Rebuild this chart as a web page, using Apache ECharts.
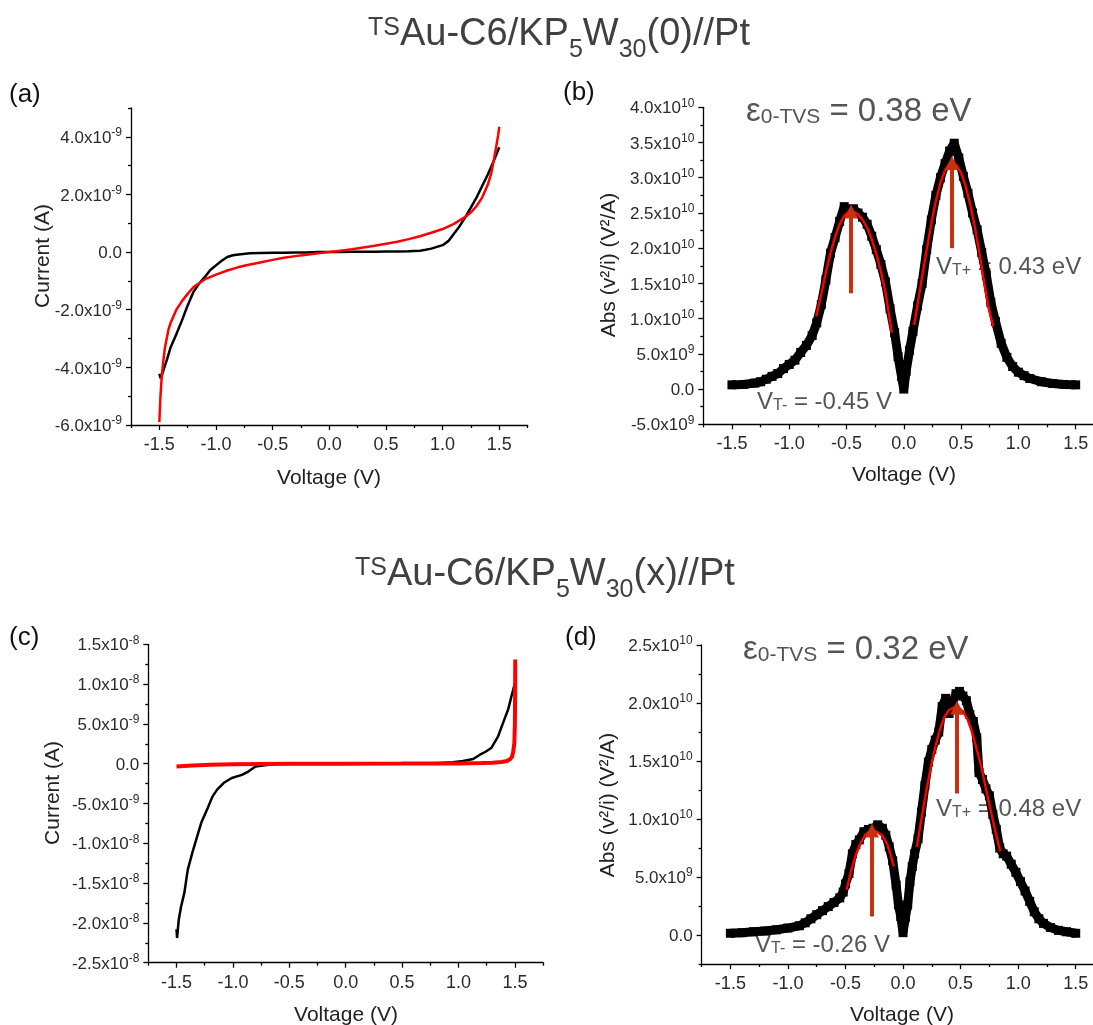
<!DOCTYPE html>
<html>
<head>
<meta charset="utf-8">
<script src="https://cdn.jsdelivr.net/npm/echarts@6/dist/echarts.min.js"></script>
<style>
html,body{margin:0;padding:0;background:#fff;}
#c{width:1093px;height:1025px;}
</style>
</head>
<body>
<div id="c"></div>
<script>
// ---------------- DATA ----------------
// Panel (a): I-V, TSAu-C6/KP5W30(0)//Pt
const aExpV = [-1.50,-1.49,-1.48,-1.46,-1.43,-1.40,-1.35,-1.30,-1.25,-1.20,-1.15,-1.10,-1.05,-1.00,-0.95,-0.90,-0.85,-0.80,-0.70,-0.60,-0.50,-0.40,-0.30,-0.20,-0.10,0.00,0.10,0.20,0.30,0.40,0.50,0.60,0.70,0.80,0.85,0.90,0.95,1.00,1.05,1.10,1.15,1.20,1.25,1.30,1.35,1.40,1.45,1.50];
const aExpI = [-4.22e-9,-4.38e-9,-4.30e-9,-4.05e-9,-3.70e-9,-3.30e-9,-2.85e-9,-2.37e-9,-1.85e-9,-1.39e-9,-1.10e-9,-0.87e-9,-0.62e-9,-0.46e-9,-0.30e-9,-0.17e-9,-0.11e-9,-0.08e-9,-0.04e-9,-0.03e-9,-0.02e-9,-0.02e-9,-0.01e-9,-0.01e-9,0,0,0,0.01e-9,0.01e-9,0.01e-9,0.02e-9,0.02e-9,0.03e-9,0.05e-9,0.08e-9,0.12e-9,0.18e-9,0.24e-9,0.38e-9,0.64e-9,0.90e-9,1.21e-9,1.55e-9,1.90e-9,2.30e-9,2.70e-9,3.15e-9,3.64e-9];
const aFitV = [-1.50,-1.49,-1.48,-1.47,-1.45,-1.42,-1.40,-1.35,-1.30,-1.25,-1.20,-1.15,-1.10,-1.00,-0.90,-0.80,-0.70,-0.60,-0.50,-0.40,-0.30,-0.20,-0.10,0.00,0.10,0.20,0.30,0.40,0.50,0.60,0.70,0.80,0.90,1.00,1.10,1.20,1.25,1.30,1.35,1.40,1.43,1.45,1.47,1.49,1.50];
const aFitI = [-5.9e-9,-5.0e-9,-4.4e-9,-3.95e-9,-3.3e-9,-2.7e-9,-2.45e-9,-2.0e-9,-1.7e-9,-1.45e-9,-1.22e-9,-1.08e-9,-0.95e-9,-0.78e-9,-0.64e-9,-0.52e-9,-0.43e-9,-0.35e-9,-0.27e-9,-0.20e-9,-0.14e-9,-0.09e-9,-0.04e-9,0,0.05e-9,0.10e-9,0.16e-9,0.22e-9,0.29e-9,0.36e-9,0.45e-9,0.55e-9,0.67e-9,0.80e-9,0.98e-9,1.22e-9,1.38e-9,1.60e-9,1.90e-9,2.35e-9,2.75e-9,3.15e-9,3.60e-9,4.05e-9,4.35e-9];

// Panel (b): TVS, Abs(V^2/I)
const bExpV = [-1.50,-1.40,-1.30,-1.25,-1.20,-1.15,-1.10,-1.05,-1.00,-0.95,-0.90,-0.85,-0.80,-0.76,-0.72,-0.68,-0.64,-0.60,-0.56,-0.52,-0.48,-0.44,-0.40,-0.36,-0.32,-0.28,-0.24,-0.20,-0.16,-0.12,-0.08,-0.05,-0.02,0.00,0.02,0.05,0.08,0.12,0.16,0.20,0.24,0.28,0.32,0.36,0.40,0.44,0.48,0.52,0.56,0.60,0.64,0.68,0.72,0.76,0.80,0.85,0.90,0.95,1.00,1.05,1.10,1.20,1.30,1.40,1.50];
const bExpY = [0.6e9,0.65e9,0.85e9,1.04e9,1.4e9,1.8e9,2.2e9,2.9e9,3.5e9,4.1e9,5.2e9,6.2e9,7.6e9,9.4e9,12.0e9,15.5e9,19.3e9,21.5e9,23.8e9,25.9e9,25.3e9,25.6e9,25.0e9,24.4e9,23.4e9,21.7e9,19.8e9,17.7e9,15.2e9,11.4e9,8.0e9,4.6e9,1.8e9,0.0,2.5e9,5.5e9,8.2e9,11.8e9,15.0e9,19.8e9,24.0e9,27.5e9,30.0e9,32.0e9,33.8e9,34.9e9,32.8e9,30.2e9,27.8e9,25.0e9,22.6e9,19.4e9,16.2e9,12.3e9,9.6e9,6.5e9,4.5e9,3.2e9,2.4e9,1.9e9,1.5e9,1.05e9,0.8e9,0.65e9,0.6e9];
const bFitLV = [-0.765,-0.72,-0.68,-0.64,-0.60,-0.56,-0.52,-0.48,-0.44,-0.40,-0.36,-0.32,-0.28,-0.24,-0.20,-0.16,-0.12,-0.105];
const bFitLY = [10.3e9,13.5e9,16.6e9,19.3e9,21.6e9,23.4e9,24.6e9,25.2e9,25.2e9,24.8e9,24.0e9,22.9e9,21.3e9,19.2e9,16.7e9,13.7e9,9.6e9,8.0e9];
const bFitRV = [0.09,0.12,0.16,0.20,0.24,0.28,0.32,0.36,0.40,0.43,0.46,0.50,0.54,0.58,0.62,0.66,0.70,0.74,0.78];
const bFitRY = [9.1e9,12.0e9,16.0e9,19.8e9,23.5e9,26.7e9,29.3e9,31.1e9,32.0e9,32.1e9,31.8e9,30.7e9,28.8e9,26.2e9,23.0e9,19.3e9,15.3e9,11.6e9,8.9e9];
const bArrowV = [-0.46, 0.42];
const bArrowFrom = [13.6e9, 20.0e9];
const bArrowTo = [25.2e9, 32.1e9];

// Panel (c): I-V, TSAu-C6/KP5W30(x)//Pt
const cExpV = [-1.50,-1.495,-1.48,-1.46,-1.43,-1.40,-1.36,-1.32,-1.28,-1.23,-1.18,-1.14,-1.08,-1.01,-0.92,-0.86,-0.80,-0.70,-0.60,-0.40,-0.20,0.00,0.20,0.40,0.60,0.80,0.95,1.04,1.13,1.19,1.24,1.29,1.35,1.41,1.44,1.47,1.50];
const cExpI = [-20.8e-9,-21.9e-9,-19.6e-9,-18.0e-9,-16.2e-9,-13.3e-9,-11.2e-9,-9.3e-9,-7.4e-9,-5.8e-9,-4.1e-9,-3.26e-9,-2.4e-9,-1.8e-9,-1.4e-9,-0.96e-9,-0.35e-9,-0.17e-9,-0.05e-9,-0.02e-9,-0.01e-9,0,0,0.01e-9,0.02e-9,0.05e-9,0.17e-9,0.33e-9,0.59e-9,1.13e-9,1.5e-9,1.97e-9,3.4e-9,5.7e-9,6.8e-9,8.5e-9,10.1e-9];
const cFitV = [-1.50,-1.40,-1.30,-1.20,-1.00,-0.50,0.00,0.50,1.00,1.20,1.30,1.38,1.43,1.46,1.475,1.485,1.495,1.50,1.502,1.503];
const cFitI = [-0.35e-9,-0.25e-9,-0.18e-9,-0.12e-9,-0.06e-9,-0.01e-9,0,0.01e-9,0.04e-9,0.08e-9,0.13e-9,0.22e-9,0.35e-9,0.6e-9,0.9e-9,1.5e-9,2.6e-9,5.0e-9,9.0e-9,13.1e-9];

// Panel (d): TVS, Abs(V^2/I)
const dExpV = [-1.50,-1.40,-1.30,-1.20,-1.10,-1.00,-0.90,-0.85,-0.80,-0.75,-0.70,-0.65,-0.60,-0.55,-0.52,-0.50,-0.47,-0.44,-0.41,-0.38,-0.34,-0.30,-0.26,-0.22,-0.18,-0.15,-0.12,-0.09,-0.06,-0.04,-0.02,0.00,0.02,0.04,0.06,0.08,0.10,0.13,0.16,0.19,0.22,0.25,0.28,0.31,0.34,0.37,0.40,0.43,0.46,0.49,0.52,0.55,0.58,0.61,0.64,0.66,0.69,0.72,0.75,0.78,0.81,0.84,0.87,0.90,0.94,0.98,1.02,1.06,1.10,1.14,1.18,1.22,1.28,1.35,1.42,1.50];
const dExpY = [0.15e9,0.2e9,0.28e9,0.35e9,0.45e9,0.6e9,0.8e9,1.05e9,1.4e9,1.75e9,2.1e9,2.45e9,2.8e9,3.2e9,3.7e9,4.4e9,5.3e9,7.0e9,7.8e9,8.2e9,8.9e9,9.1e9,9.2e9,9.5e9,9.2e9,8.6e9,7.6e9,6.4e9,4.3e9,2.6e9,1.6e9,0.2e9,1.5e9,2.6e9,4.6e9,5.9e9,7.0e9,8.3e9,10.6e9,12.9e9,14.9e9,16.0e9,16.8e9,17.5e9,19.7e9,20.4e9,19.1e9,20.0e9,20.8e9,21.0e9,20.6e9,20.2e9,19.0e9,18.4e9,17.0e9,14.0e9,13.4e9,12.6e9,12.0e9,10.4e9,9.1e9,7.5e9,7.0e9,6.8e9,6.1e9,5.4e9,4.6e9,3.8e9,2.9e9,2.0e9,1.4e9,1.0e9,0.65e9,0.4e9,0.28e9,0.15e9];
const dFitLV = [-0.49,-0.45,-0.41,-0.37,-0.33,-0.29,-0.26,-0.22,-0.18,-0.14,-0.11,-0.08];
const dFitLY = [3.9e9,5.6e9,6.9e9,7.9e9,8.6e9,8.95e9,9.0e9,8.85e9,8.55e9,7.9e9,7.0e9,5.9e9];
const dFitRV = [0.12,0.16,0.20,0.24,0.28,0.32,0.36,0.40,0.44,0.48,0.52,0.56,0.60,0.64,0.68,0.72,0.76,0.80,0.845];
const dFitRY = [7.6e9,10.0e9,12.3e9,14.4e9,16.2e9,17.7e9,18.8e9,19.4e9,19.6e9,19.6e9,19.3e9,18.6e9,17.5e9,16.0e9,14.5e9,12.6e9,10.8e9,9.0e9,7.2e9];
const dArrowV = [-0.27, 0.47];
const dArrowFrom = [1.6e9, 12.2e9];
const dArrowTo = [9.0e9, 19.6e9];

// Tick values and labels
const xMajor = [-1.5,-1.0,-0.5,0.0,0.5,1.0,1.5];
const xMajorText = ['-1.5','-1.0','-0.5','0.0','0.5','1.0','1.5'];
const xMinor = [-1.75,-1.25,-0.75,-0.25,0.25,0.75,1.25,1.75];

const aYMajor = [-6e-9,-4e-9,-2e-9,0,2e-9,4e-9];
const aYMant = ['-6.0','-4.0','-2.0','0.0','2.0','4.0'];
const aYExp  = ['-9','-9','-9','','-9','-9'];
const aYMinor = [-5e-9,-3e-9,-1e-9,1e-9,3e-9,5e-9];

const bYMajor = [-5e9,0,5e9,1e10,1.5e10,2e10,2.5e10,3e10,3.5e10,4e10];
const bYMant = ['-5.0','0.0','5.0','1.0','1.5','2.0','2.5','3.0','3.5','4.0'];
const bYExp  = ['9','','9','10','10','10','10','10','10','10'];
const bYMinor = [-2.5e9,2.5e9,7.5e9,1.25e10,1.75e10,2.25e10,2.75e10,3.25e10,3.75e10];

const cYMajor = [-2.5e-8,-2e-8,-1.5e-8,-1e-8,-5e-9,0,5e-9,1e-8,1.5e-8];
const cYMant = ['-2.5','-2.0','-1.5','-1.0','-5.0','0.0','5.0','1.0','1.5'];
const cYExp  = ['-8','-8','-8','-8','-9','','-9','-8','-8'];
const cYMinor = [-2.25e-8,-1.75e-8,-1.25e-8,-7.5e-9,-2.5e-9,2.5e-9,7.5e-9,1.25e-8];

const dYMajor = [0,5e9,1e10,1.5e10,2e10,2.5e10];
const dYMant = ['0.0','5.0','1.0','1.5','2.0','2.5'];
const dYExp  = ['','9','10','10','10','10'];
const dYMinor = [-2.5e9,2.5e9,7.5e9,1.25e10,1.75e10,2.25e10];

// Texts
const titleTop = ['TS','Au-C6/KP','5','W','30','(0)//Pt'];
const titleBottom = ['TS','Au-C6/KP','5','W','30','(x)//Pt'];
const panelLetters = ['(a)','(b)','(c)','(d)'];
const xName = 'Voltage (V)';
const yNameIV = 'Current (A)';
const yNameTVS = 'Abs (v²/i) (V²/A)';
const bEps = '0.38 eV', bVTp = '0.43 eV', bVTm = '-0.45 V';
const dEps = '0.32 eV', dVTp = '0.48 eV', dVTm = '-0.26 V';

// ---------------- BUILD ----------------
const FONT = '"Liberation Sans", Arial, Helvetica, sans-serif';
const zip = (xs, ys) => xs.map((x, i) => [x, ys[i]]);

const grids = [
  {left: 131, top: 108, width: 396.6, height: 317},
  {left: 703.3, top: 107.3, width: 401, height: 317},
  {left: 148.3, top: 644.3, width: 394.8, height: 318.4},
  {left: 701.6, top: 645, width: 402.9, height: 319}
].map(g => Object.assign({outerBoundsMode: 'none', containLabel: false, show: false}, g));

const yRanges = [[-6e-9, 5e-9], [-5e9, 4e10], [-2.5e-8, 1.5e-8], [-2.5e9, 2.5e10]];
const yMajors = [aYMajor, bYMajor, cYMajor, dYMajor];
const yMants = [aYMant, bYMant, cYMant, dYMant];
const yExps = [aYExp, bYExp, cYExp, dYExp];
const yMinors = [aYMinor, bYMinor, cYMinor, dYMinor];

const axisLineStyle = {color: '#000', width: 1.3};
const LCOL = '#2a2a2a';
const xAxes = [], yAxes = [];
for (let g = 0; g < 4; g++) {
  xAxes.push({
    type: 'value', gridIndex: g, position: 'bottom', min: -1.75, max: 1.75,
    axisLine: {show: true, onZero: false, lineStyle: axisLineStyle},
    axisTick: {show: true, inside: false, length: 5, customValues: xMajor, lineStyle: axisLineStyle},
    axisLabel: {show: true, customValues: xMajor, margin: 11, fontSize: 18, color: LCOL, fontFamily: FONT,
      formatter: v => { const i = xMajor.findIndex(t => Math.abs(t - v) < 1e-6); return i >= 0 ? xMajorText[i] : ''; }},
    splitLine: {show: false}
  });
  xAxes.push({
    type: 'value', gridIndex: g, position: 'bottom', min: -1.75, max: 1.75,
    axisLine: {show: false, onZero: false},
    axisTick: {show: true, inside: false, length: 3, customValues: xMinor, lineStyle: axisLineStyle},
    axisLabel: {show: false}, splitLine: {show: false}
  });
  const maj = yMajors[g], man = yMants[g], ex = yExps[g];
  const span = yRanges[g][1] - yRanges[g][0];
  yAxes.push({
    type: 'value', gridIndex: g, position: 'left', min: yRanges[g][0], max: yRanges[g][1],
    axisLine: {show: true, onZero: false, lineStyle: axisLineStyle},
    axisTick: {show: true, inside: false, length: 5, customValues: maj, lineStyle: axisLineStyle},
    axisLabel: {show: true, customValues: maj, margin: 9, color: LCOL, fontFamily: FONT,
      formatter: v => {
        const i = maj.findIndex(t => Math.abs(t - v) < span * 1e-6);
        if (i < 0) return '';
        return ex[i] ? '{m|' + man[i] + 'x10}{s|' + ex[i] + '}' : '{m|' + man[i] + '}';
      },
      rich: {
        m: {fontSize: 17, lineHeight: 20, verticalAlign: 'bottom', color: LCOL, fontFamily: FONT},
        s: {fontSize: 12, lineHeight: 12, verticalAlign: 'top', color: LCOL, fontFamily: FONT}
      }},
    splitLine: {show: false}
  });
  yAxes.push({
    type: 'value', gridIndex: g, position: 'left', min: yRanges[g][0], max: yRanges[g][1],
    axisLine: {show: false, onZero: false},
    axisTick: {show: true, inside: false, length: 3, customValues: yMinors[g], lineStyle: axisLineStyle},
    axisLabel: {show: false}, splitLine: {show: false}
  });
}

const ARROW = '#C8300F';
function arrows(vs, from, to) {
  return {
    silent: true, animation: false, symbol: ['none', 'triangle'], symbolSize: 14,
    lineStyle: {color: ARROW, width: 4, type: 'solid'}, itemStyle: {color: ARROW},
    label: {show: false}, emphasis: {disabled: true},
    data: vs.map((v, i) => [{coord: [v, from[i]]}, {coord: [v, to[i]]}])
  };
}
function dataSeries(g, pts, opts) {
  return Object.assign({
    type: 'line', xAxisIndex: 2 * g, yAxisIndex: 2 * g, data: pts, animation: false, silent: true,
    clip: true
  }, opts);
}
const blackDots = {symbol: 'rect', symbolSize: 9, showSymbol: true, showAllSymbol: true,
  itemStyle: {color: '#000'}, lineStyle: {color: '#000', width: 9}, z: 2};
const redFit = {symbol: 'none', lineStyle: {color: '#FF0000', width: 2.4}, z: 3};

const series = [
  dataSeries(0, zip(aExpV, aExpI), {symbol: 'none', lineStyle: {color: '#000', width: 2.5}, z: 2}),
  dataSeries(0, zip(aFitV, aFitI), {symbol: 'none', lineStyle: {color: '#FF0000', width: 2.5}, z: 3}),
  dataSeries(1, zip(bExpV, bExpY), blackDots),
  dataSeries(1, zip(bFitLV, bFitLY), redFit),
  dataSeries(1, zip(bFitRV, bFitRY), Object.assign({}, redFit, {markLine: arrows(bArrowV, bArrowFrom, bArrowTo)})),
  dataSeries(2, zip(cExpV, cExpI), {symbol: 'none', lineStyle: {color: '#000', width: 2.5}, z: 2}),
  dataSeries(2, zip(cFitV, cFitI), {symbol: 'none', lineStyle: {color: '#FF0000', width: 4}, z: 3}),
  dataSeries(3, zip(dExpV, dExpY), blackDots),
  dataSeries(3, zip(dFitLV, dFitLY), redFit),
  dataSeries(3, zip(dFitRV, dFitRY), Object.assign({}, redFit, {markLine: arrows(dArrowV, dArrowFrom, dArrowTo)}))
];

// ---------------- TEXT (graphic) ----------------
const TCOL = '#404040', ACOL = '#555555';
function titleText(parts, x, y) {
  return {
    type: 'text', x: x, y: y, z: 10,
    style: {
      text: '{sup|' + parts[0] + '}{m|' + parts[1] + '}{sub|' + parts[2] + '}{m|' + parts[3] + '}{sub|' + parts[4] + '}{m|' + parts[5] + '}',
      rich: {
        m: {fontSize: 38, lineHeight: 40, verticalAlign: 'top', fill: TCOL, fontFamily: FONT},
        sub: {fontSize: 25, lineHeight: 25, padding: [22, 0, 0, 0], verticalAlign: 'top', fill: TCOL, fontFamily: FONT},
        sup: {fontSize: 25, lineHeight: 25, verticalAlign: 'top', fill: TCOL, fontFamily: FONT}
      },
      verticalAlign: 'top', align: 'left'
    }
  };
}
function plain(text, x, y, size, color) {
  return {type: 'text', x: x, y: y, z: 10,
    style: {text: text, fontSize: size, fill: color, fontFamily: FONT, align: 'center', verticalAlign: 'middle'}};
}
function letter(text, x, y) {
  return {type: 'text', x: x, y: y, z: 10,
    style: {text: text, fontSize: 26, fill: '#111', fontFamily: FONT, align: 'left', verticalAlign: 'middle'}};
}
function vText(text, x, y) {
  return {type: 'text', x: x, y: y, rotation: Math.PI / 2, z: 10,
    style: {text: text, fontSize: 21, fill: '#222', fontFamily: FONT, align: 'center', verticalAlign: 'middle'}};
}
function epsText(val, x, yBase) {
  return {type: 'text', x: x, y: yBase, z: 1,
    style: {text: '{a|ε}{b|0-TVS}{a| = ' + val + '}', align: 'left', verticalAlign: 'bottom',
      rich: {a: {fontSize: 33, lineHeight: 33, verticalAlign: 'bottom', fill: ACOL, fontFamily: FONT},
             b: {fontSize: 21, lineHeight: 24, verticalAlign: 'bottom', fill: ACOL, fontFamily: FONT}}}};
}
function vtText(sub, val, x, yBase) {
  return {type: 'text', x: x, y: yBase, z: 1,
    style: {text: '{a|V}{b|' + sub + '}{a| = ' + val + '}', align: 'left', verticalAlign: 'bottom',
      rich: {a: {fontSize: 24, lineHeight: 24, verticalAlign: 'bottom', fill: ACOL, fontFamily: FONT},
             b: {fontSize: 16, lineHeight: 18, verticalAlign: 'bottom', fill: ACOL, fontFamily: FONT}}}};
}

const graphic = [
  titleText(titleTop, 368, 16),
  titleText(titleBottom, 355, 556),
  letter(panelLetters[0], 9, 95),
  letter(panelLetters[1], 563, 93),
  letter(panelLetters[2], 9, 638),
  letter(panelLetters[3], 565, 638),
  plain(xName, 329, 478, 21, '#222'),
  plain(xName, 904, 475, 21, '#222'),
  plain(xName, 346, 1015, 21, '#222'),
  plain(xName, 902, 1015, 21, '#222'),
  vText(yNameIV, 43, 256),
  vText(yNameTVS, 609, 265),
  vText(yNameIV, 53, 793),
  vText(yNameTVS, 608, 805),
  epsText(bEps, 746, 128),
  vtText('T+', bVTp, 936, 279),
  vtText('T-', bVTm, 757, 414),
  epsText(dEps, 743, 666),
  vtText('T+', dVTp, 936, 821),
  vtText('T-', dVTm, 755, 957)
];

const chart = echarts.init(document.getElementById('c'), null, {renderer: 'canvas'});
chart.setOption({
  backgroundColor: '#fff',
  animation: false,
  grid: grids,
  xAxis: xAxes,
  yAxis: yAxes,
  series: series,
  graphic: graphic
});
</script>
</body>
</html>
